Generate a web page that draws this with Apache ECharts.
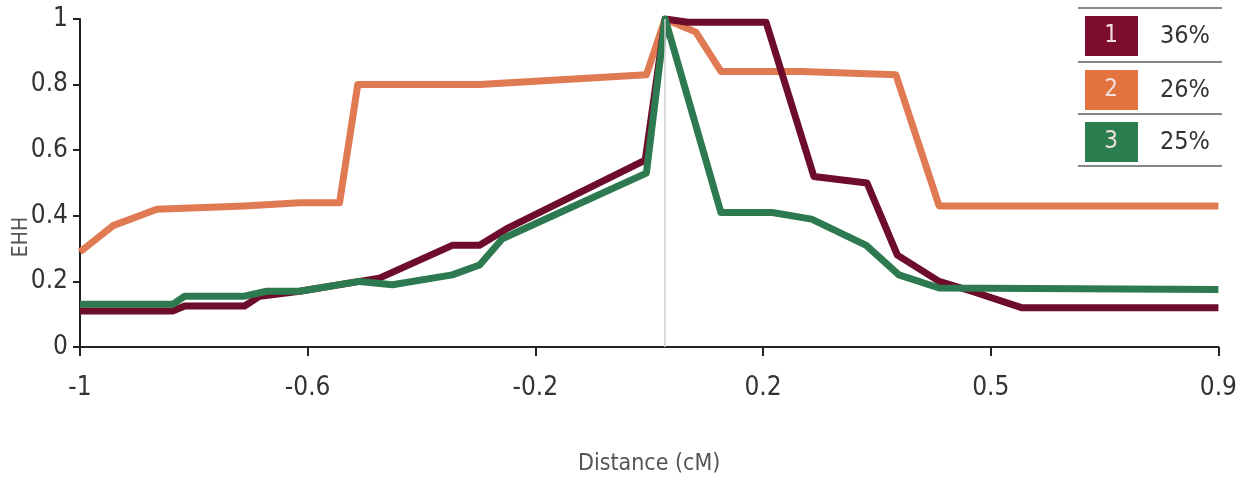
<!DOCTYPE html>
<html>
<head>
<meta charset="utf-8">
<script src="https://cdn.jsdelivr.net/npm/echarts@6/dist/echarts.min.js"></script>
<style>
  html, body { margin: 0; padding: 0; background: #fff; }
  #chart { width: 1240px; height: 481px; }
</style>
</head>
<body>
<div id="chart"></div>
<script>
// tick values of the distance axis (labels are evenly spaced)
const tickValues = [-1, -0.6, -0.2, 0.2, 0.5, 0.9]
const tickLabels = ['-1', '-0.6', '-0.2', '0.2', '0.5', '0.9']

// core SNP position (cM)
const corePos = 0.028

// haplotype 1
const dist1 = [-1, -0.837, -0.816, -0.711, -0.684, -0.614, -0.509, -0.474, -0.346, -0.298, -0.251, -0.007, 0.028, 0.068, 0.204, 0.267, 0.337, 0.377, 0.432, 0.475, 0.554, 0.9]
const ehh1 = [0.11, 0.11, 0.125, 0.125, 0.155, 0.17, 0.2, 0.21, 0.31, 0.31, 0.36, 0.57, 1.0, 0.99, 0.99, 0.52, 0.5, 0.28, 0.2, 0.17, 0.12, 0.12]
// haplotype 2
const dist2 = [-1, -0.942, -0.865, -0.711, -0.614, -0.544, -0.512, -0.298, -0.005, 0.028, 0.082, 0.126, 0.251, 0.375, 0.432, 0.9]
const ehh2 = [0.29, 0.37, 0.42, 0.43, 0.44, 0.44, 0.8, 0.8, 0.83, 1.0, 0.96, 0.84, 0.84, 0.83, 0.43, 0.43]
// haplotype 3
const dist3 = [-1, -0.837, -0.816, -0.711, -0.672, -0.614, -0.509, -0.451, -0.346, -0.298, -0.258, -0.005, 0.028, 0.126, 0.212, 0.264, 0.336, 0.379, 0.432, 0.9]
const ehh3 = [0.13, 0.13, 0.155, 0.155, 0.17, 0.17, 0.2, 0.19, 0.22, 0.25, 0.33, 0.53, 1.0, 0.41, 0.41, 0.39, 0.31, 0.22, 0.18, 0.175]

const legendIds = ['1', '2', '3']
const legendPcts = ['36%', '26%', '25%']
const colors = ['#6e0c2c', '#e07a52', '#2d7a50']
const swatchColors = ['#7d0d2e', '#e2733f', '#2b7f4f']

// map a distance onto the evenly spaced tick positions
function toAxis(d) {
  for (let k = 0; k < tickValues.length - 1; k++) {
    if (d <= tickValues[k + 1] || k === tickValues.length - 2) {
      return k + (d - tickValues[k]) / (tickValues[k + 1] - tickValues[k])
    }
  }
}

function pairs(xs, ys) {
  return xs.map((x, i) => [toAxis(x), ys[i]])
}

const font = '"Liberation Sans Narrow", "DejaVu Sans Condensed", sans-serif'

let chart = echarts.init(document.getElementById('chart'))

// legend table in the top right corner
let legendGraphics = []
const rowTop = [8, 62, 114]
legendIds.forEach((id, i) => {
  legendGraphics.push({
    type: 'line',
    shape: { x1: 1078, y1: rowTop[i], x2: 1222, y2: rowTop[i] },
    style: { stroke: '#888', lineWidth: 2 }
  })
  legendGraphics.push({
    type: 'rect',
    shape: { x: 1085, y: rowTop[i] + 8, width: 53, height: 40 },
    style: { fill: swatchColors[i] }
  })
  legendGraphics.push({
    type: 'text',
    style: {
      x: 1111, y: rowTop[i] + 28, text: id, fill: '#f3dede',
      font: '24px ' + font, textAlign: 'center', textVerticalAlign: 'middle'
    }
  })
  legendGraphics.push({
    type: 'text',
    style: {
      x: 1185, y: rowTop[i] + 28, text: legendPcts[i], fill: '#333',
      font: '25px ' + font, textAlign: 'center', textVerticalAlign: 'middle'
    }
  })
})
legendGraphics.push({
  type: 'line',
  shape: { x1: 1078, y1: 166, x2: 1222, y2: 166 },
  style: { stroke: '#888', lineWidth: 2 }
})
// y axis title
legendGraphics.push({
  type: 'text',
  x: 22,
  y: 237,
  rotation: Math.PI / 2,
  style: {
    text: 'EHH', fill: '#555', font: '21px ' + font,
    textAlign: 'center', textVerticalAlign: 'middle'
  }
})

function lineSeries(name, data, color) {
  return {
    name: name,
    type: 'line',
    data: data,
    showSymbol: false,
    animation: false,
    lineStyle: { color: color, width: 7, join: 'round' },
    itemStyle: { color: color }
  }
}

chart.setOption({
  animation: false,
  grid: {
    left: 80,
    right: 18,
    top: 19,
    bottom: 125
  },
  xAxis: {
    type: 'value',
    min: 0,
    max: tickValues.length - 1,
    interval: 1,
    name: 'Distance (cM)',
    nameLocation: 'middle',
    nameGap: 106,
    nameTextStyle: { fontFamily: font, fontSize: 23, color: '#555' },
    axisLine: { show: true, onZero: false, lineStyle: { color: '#222', width: 2 } },
    axisTick: { show: true, inside: false, length: 9, lineStyle: { color: '#222', width: 2 } },
    axisLabel: {
      margin: 28,
      fontFamily: font,
      fontSize: 26,
      color: '#333',
      formatter: v => tickLabels[Math.round(v)]
    },
    splitLine: { show: false }
  },
  yAxis: {
    type: 'value',
    min: 0,
    max: 1,
    interval: 0.2,
    axisLine: { show: true, lineStyle: { color: '#222', width: 2 } },
    axisTick: { show: true, length: 7, lineStyle: { color: '#222', width: 2 } },
    axisLabel: {
      margin: 12,
      fontFamily: font,
      fontSize: 26,
      color: '#333',
      formatter: v => (v === 0 || v === 1) ? String(v) : v.toFixed(1)
    },
    splitLine: { show: false }
  },
  graphic: legendGraphics,
  series: [
    Object.assign(lineSeries('2', pairs(dist2, ehh2), colors[1]), {
      markLine: {
        silent: true,
        symbol: 'none',
        label: { show: false },
        lineStyle: { color: '#cfcfcf', width: 1.5, type: 'solid' },
        data: [{ xAxis: toAxis(corePos) }]
      }
    }),
    lineSeries('1', pairs(dist1, ehh1), colors[0]),
    lineSeries('3', pairs(dist3, ehh3), colors[2])
  ]
})
</script>
</body>
</html>
